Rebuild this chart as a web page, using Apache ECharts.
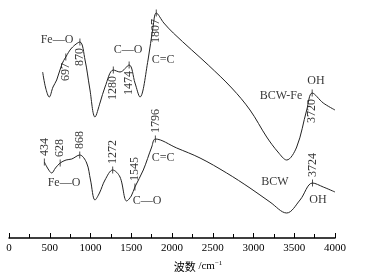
<!DOCTYPE html>
<html><head><meta charset="utf-8">
<script src="https://cdn.jsdelivr.net/npm/echarts@6/dist/echarts.min.js"></script>
<style>html,body{margin:0;padding:0;background:#fff}#c{width:365px;height:278px}</style>
</head><body><div id="c"></div>
<script>
// BCW-Fe spectrum (wavenumber, relative transmittance)
var feWn  = [413,450,494,540,585,650,697,769,870,933,990,1055,1120,1178,1280,1362,1474,1546,1607,1706,1767,1807,1900,2016,2242,2445,2733,2957,3162,3300,3407,3530,3653,3720,3856,4000];
var feVal = [166,150,141,151,158,174,181,190,196,178,150,121,136,151,168,166,173,155,141,178,211,225,215,205,188,173,150,128,101,86,78,91,128,145,135,128];
// BCW spectrum
var bcwWn  = [434,480,524,570,628,700,770,868,953,1000,1055,1110,1178,1272,1362,1444,1500,1545,1648,1751,1796,2058,2344,2671,2957,3202,3407,3571,3724,3856,4000];
var bcwVal = [76,69,65,70,75,78,79,83,75,58,38,45,58,68,61,37,42,51,68,91,99,90,80,65,50,36,25,38,55,51,46];
// labelled peaks
var feMarks  = [697,870,1280,1474,1807,3720];
var bcwMarks = [434,628,868,1272,1545,1796,3724];
// group annotations
var annoText = ['Fe\u2014O','C\u2014O','C=C','BCW-Fe','OH','Fe\u2014O','C\u2014O','C=C','BCW','OH'];
var annoWn   = [589,1460,1890,3337,3767,675,1693,1890,3264,3791];
var annoVal  = [198,188,178,142,157,55,37,80,56,38];
// x axis
var xMin = 0, xMax = 4000, xStep = 500;

function pairs(a,b){return a.map(function(v,i){return [v,b[i]];});}
function marks(m,wn,val,dir){
  return m.map(function(w){
    var len = String(w).length*6;
    return {value:[w,val[wn.indexOf(w)]],label:{offset:[dir*(6+len/2),0]}};
  });
}

var serif = '"Liberation Serif", serif';
var lineStyle = {color:'#222',width:1};
var markLabel = {show:true,formatter:function(p){return String(p.value[0]);},rotate:90,position:'inside',
  color:'#000',fontFamily:serif,fontSize:12};
var option = {
  animation:false,
  grid:{left:9,right:30,top:0,bottom:40},
  xAxis:{type:'value',min:xMin,max:xMax,interval:xStep,
    axisLine:{lineStyle:{color:'#000',width:1.5}},
    axisTick:{inside:true,length:5,lineStyle:{color:'#000'}},
    minorTick:{show:true,splitNumber:2,length:4,lineStyle:{color:'#000'}},
    splitLine:{show:false},
    axisLabel:{color:'#000',fontFamily:serif,fontSize:11,margin:5,formatter:function(v){return String(v);}},
    name:'{cn|波数} /cm{sup|−1}',nameLocation:'middle',nameGap:22,
    nameTextStyle:{color:'#000',fontFamily:serif,fontSize:11,padding:[0,0,0,52],
      rich:{cn:{fontFamily:'"Noto Sans CJK SC"',fontSize:11,color:'#000'},
            sup:{fontSize:7,verticalAlign:'top',padding:[0,0,6,0],color:'#000',fontFamily:serif}}}
  },
  yAxis:{type:'value',min:0,max:238,show:false},
  series:[
    {type:'line',data:pairs(feWn,feVal),smooth:0.35,symbol:'none',lineStyle:lineStyle},
    {type:'line',data:pairs(bcwWn,bcwVal),smooth:0.35,symbol:'none',lineStyle:lineStyle},
    {type:'scatter',data:marks(feMarks,feWn,feVal,-1),symbol:'rect',symbolSize:[1,7],
      itemStyle:{color:'#222'},label:markLabel},
    {type:'scatter',data:marks(bcwMarks,bcwWn,bcwVal,1),symbol:'rect',symbolSize:[1,7],
      itemStyle:{color:'#222'},label:markLabel},
    {type:'scatter',data:annoWn.map(function(w,i){return {value:[w,annoVal[i]],name:annoText[i]};}),
      symbolSize:0,
      label:{show:true,position:'inside',formatter:'{b}',color:'#000',fontFamily:serif,fontSize:12}}
  ]
};
echarts.init(document.getElementById('c')).setOption(option);
</script></body></html>
